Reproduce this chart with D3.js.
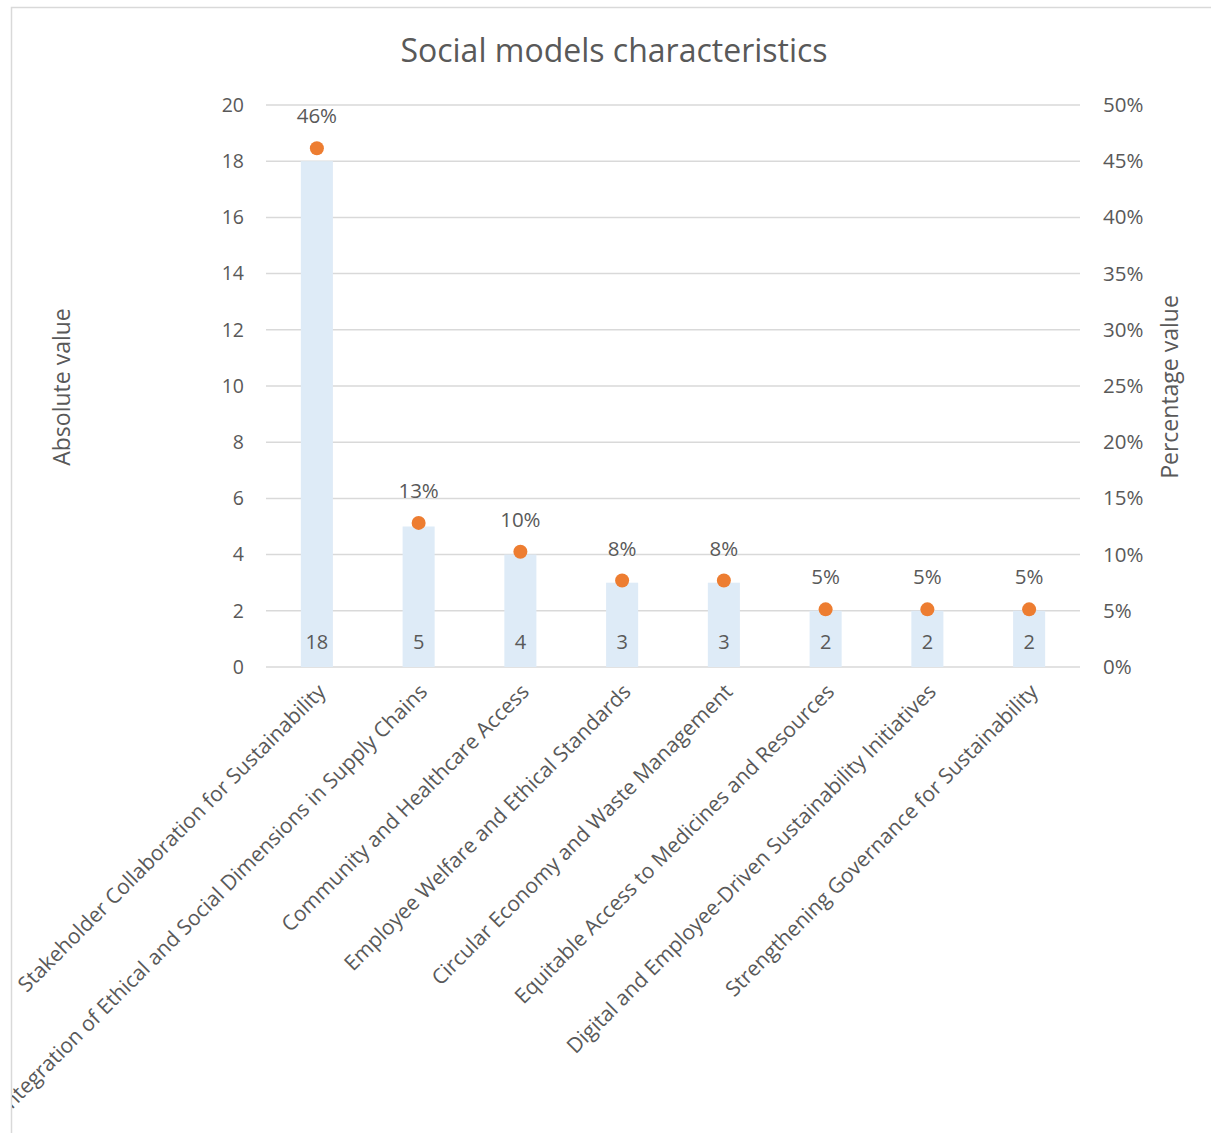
<!DOCTYPE html>
<html>
<head>
<meta charset="utf-8">
<script src="https://cdn.jsdelivr.net/npm/d3@7"></script>
<style>
  html, body { margin: 0; padding: 0; background: #fff; }
  svg { display: block; }
  text { font-family: "Open Sans", "Noto Sans", sans-serif; fill: #595959; }
</style>
</head>
<body>
<svg id="chart" width="1211" height="1133"></svg>
<script>
// Social model characteristics: absolute counts (bars) and share of total (dots)
const categories = [
  "Stakeholder Collaboration for Sustainability",
  "Integration of Ethical and Social Dimensions in Supply Chains",
  "Community and Healthcare Access",
  "Employee Welfare and Ethical Standards",
  "Circular Economy and Waste Management",
  "Equitable Access to Medicines and Resources",
  "Digital and Employee-Driven Sustainability Initiatives",
  "Strengthening Governance for Sustainability"
];
const absoluteValues = [18, 5, 4, 3, 3, 2, 2, 2];
const percentValues = [0.4615, 0.1282, 0.1026, 0.0769, 0.0769, 0.0513, 0.0513, 0.0513];
const leftTicks = [0, 2, 4, 6, 8, 10, 12, 14, 16, 18, 20];
const rightTicks = [0, 0.05, 0.10, 0.15, 0.20, 0.25, 0.30, 0.35, 0.40, 0.45, 0.50];

const svg = d3.select("#chart");
const plot = { left: 266, right: 1080, top: 105, bottom: 667 };

// chart area clip (labels running past the frame are cut off)
svg.append("defs").append("clipPath")
  .attr("id", "chart-area")
  .append("rect")
  .attr("x", 12).attr("y", 8).attr("width", 1199).attr("height", 1125);

// chart frame
svg.append("path")
  .attr("d", "M11.5,1133 V7.5 H1211")
  .attr("fill", "none")
  .attr("stroke", "#D9D9D9")
  .attr("stroke-width", 1.5);

const x = d3.scaleBand()
  .domain(categories)
  .range([plot.left, plot.right])
  .paddingInner(0.685)
  .paddingOuter(0.3425);

const yLeft = d3.scaleLinear().domain([0, 20]).range([plot.bottom, plot.top]);
const yRight = d3.scaleLinear().domain([0, 0.5]).range([plot.bottom, plot.top]);

// gridlines
svg.append("g")
  .selectAll("line")
  .data(leftTicks)
  .join("line")
  .attr("x1", plot.left).attr("x2", plot.right)
  .attr("y1", d => yLeft(d)).attr("y2", d => yLeft(d))
  .attr("stroke", "#D9D9D9")
  .attr("stroke-width", 1.5);

// left axis
const leftAxis = svg.append("g")
  .attr("transform", `translate(${plot.left},0)`)
  .call(d3.axisLeft(yLeft).tickValues(leftTicks).tickSize(0).tickPadding(22));
leftAxis.select(".domain").remove();
leftAxis.selectAll("text").style("font-size", "19.5px").attr("fill", "#595959");

// right axis
const rightAxis = svg.append("g")
  .attr("transform", `translate(${plot.right},0)`)
  .call(d3.axisRight(yRight).tickValues(rightTicks).tickSize(0).tickPadding(23)
    .tickFormat(d3.format(".0%")));
rightAxis.select(".domain").remove();
rightAxis.selectAll("text").style("font-size", "20.5px").attr("fill", "#595959");

// bars
svg.append("g")
  .selectAll("rect")
  .data(categories)
  .join("rect")
  .attr("x", d => x(d))
  .attr("width", x.bandwidth())
  .attr("y", (d, i) => yLeft(absoluteValues[i]))
  .attr("height", (d, i) => yLeft(0) - yLeft(absoluteValues[i]))
  .attr("fill", "#DEEBF7");

// bar value labels near the base
svg.append("g")
  .selectAll("text")
  .data(categories)
  .join("text")
  .attr("x", d => x(d) + x.bandwidth() / 2)
  .attr("y", plot.bottom - 18)
  .attr("text-anchor", "middle")
  .style("font-size", "20px")
  .attr("fill", "#404040")
  .text((d, i) => absoluteValues[i]);

// percentage dots
svg.append("g")
  .selectAll("circle")
  .data(categories)
  .join("circle")
  .attr("cx", d => x(d) + x.bandwidth() / 2)
  .attr("cy", (d, i) => yRight(percentValues[i]))
  .attr("r", 7)
  .attr("fill", "#ED7D31");

// percentage labels
svg.append("g")
  .selectAll("text")
  .data(categories)
  .join("text")
  .attr("x", d => x(d) + x.bandwidth() / 2)
  .attr("y", (d, i) => yRight(percentValues[i]) - 25)
  .attr("text-anchor", "middle")
  .style("font-size", "20.5px")
  .attr("fill", "#404040")
  .text((d, i) => d3.format(".0%")(percentValues[i]));

// rotated category labels
svg.append("g")
  .attr("clip-path", "url(#chart-area)")
  .selectAll("text")
  .data(categories)
  .join("text")
  .attr("transform", d => `translate(${x(d) + x.bandwidth() / 2 + 10},${plot.bottom + 26}) rotate(-45)`)
  .attr("text-anchor", "end")
  .style("font-size", "21px")
  .attr("fill", "#595959")
  .text(d => d);

// title
svg.append("text")
  .attr("x", 614)
  .attr("y", 62)
  .attr("text-anchor", "middle")
  .style("font-size", "32px")
  .attr("fill", "#595959")
  .text("Social models characteristics");

// axis titles
svg.append("text")
  .attr("transform", "translate(70,387) rotate(-90)")
  .attr("text-anchor", "middle")
  .style("font-size", "23px")
  .attr("fill", "#595959")
  .text("Absolute value");

svg.append("text")
  .attr("transform", "translate(1178,387) rotate(-90)")
  .attr("text-anchor", "middle")
  .style("font-size", "23px")
  .attr("fill", "#595959")
  .text("Percentage value");
</script>
</body>
</html>
